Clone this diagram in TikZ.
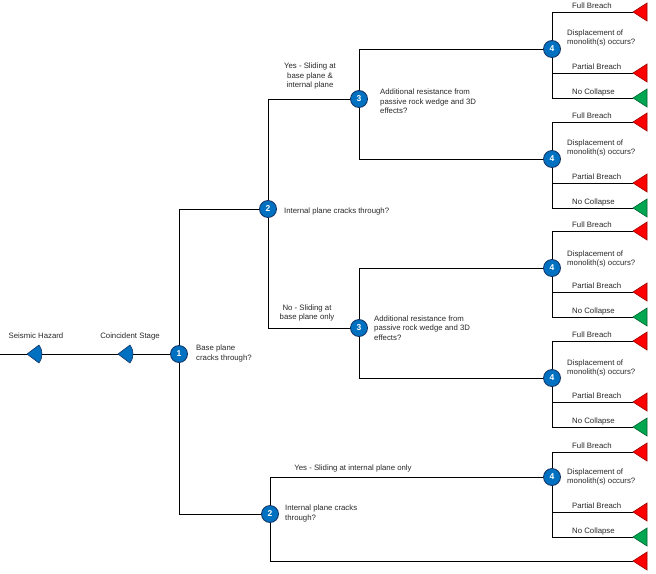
\documentclass[tikz,border=0pt]{standalone}
\usepackage{fontspec}
\setmainfont{Liberation Sans}
\definecolor{nodeblue}{RGB}{0,112,192}
\definecolor{nodeedge}{RGB}{20,50,100}
\definecolor{tred}{RGB}{255,0,0}
\definecolor{tgreen}{RGB}{0,166,80}
\definecolor{txt}{RGB}{40,40,40}
\tikzset{
  pics/endtri/.style={code={\path[fill=#1, draw=#1!60!black, line width=0.6pt] (0,0) -- (14,-9) -- (14,9) -- cycle;}},
  pics/hazard/.style={code={\path[fill=nodeblue, draw=nodeedge, line width=0.6pt] (0,0) -- (12,-9) .. controls (16,-4) and (16,4) .. (12,9) -- cycle;}}
}
\begin{document}
\begin{tikzpicture}[x=1pt,y=-1pt,
  conn/.style={draw=black, line width=0.9pt},
  dec/.style={circle, fill=nodeblue, draw=nodeedge, line width=0.8pt, minimum size=17pt, inner sep=0pt, text=white, font=\fontsize{8.5}{8.5}\selectfont\bfseries},
  lbl/.style={inner sep=0pt, text=txt, font=\fontsize{7.8}{9.4}\selectfont}]
\useasboundingbox (0,0) rectangle (656,573);

% decision nodes
\node[dec] (n1) at (179,354) {1};
\node[dec] (n2a) at (268,209) {2};
\node[dec] (n2b) at (270,514) {2};
\node[dec] (n3a) at (359,99) {3};
\node[dec] (n3b) at (359,328) {3};

% left input line
\coordinate (start) at (0,354);
\draw[conn] (start) -- (n1);
\coordinate (sh) at (27,354);
\coordinate (cs) at (118,354);
\pic at (sh) {hazard};
\pic at (cs) {hazard};
\node[lbl] at (36,336) {Seismic Hazard};
\node[lbl] at (130,336) {Coincident Stage};

% groups of node 4
\foreach \i/\N/\f/\p/\c/\t in {1/49/12/73/98/38, 2/159/122/183/208/148, 3/268/231/292/317/259, 4/378/341/402/427/368, 5/477/452/512/537/477} {
  \node[dec] (d\i) at (552,\N) {4};
  \coordinate (fb\i) at (633,\f);
  \coordinate (pb\i) at (633,\p);
  \coordinate (nc\i) at (633,\c);
  \draw[conn] (d\i) |- (fb\i);
  \draw[conn] (d\i) |- (pb\i);
  \draw[conn] (d\i) |- (nc\i);
  \pic at (fb\i) {endtri=tred};
  \pic at (pb\i) {endtri=tred};
  \pic at (nc\i) {endtri=tgreen};
  \node[lbl, anchor=base west] at (572,\f-3.5) {Full Breach};
  \node[lbl, anchor=base west] at (572,\p-3.5) {Partial Breach};
  \node[lbl, anchor=base west] at (572,\c-3.5) {No Collapse};
  \node[lbl, anchor=west, align=left] at (567,\t) {Displacement of\\monolith(s) occurs?};
}

% tree connectors
\draw[conn] (n1) |- (n2a);
\draw[conn] (n1) |- (n2b);
\draw[conn] (n2a) |- (n3a);
\draw[conn] (n2a) |- (n3b);
\draw[conn] (n3a) |- (d1);
\draw[conn] (n3a) |- (d2);
\draw[conn] (n3b) |- (d3);
\draw[conn] (n3b) |- (d4);
\draw[conn] (n2b) |- (d5);
\coordinate (fin) at (633,561);
\draw[conn] (n2b) |- (fin);
\pic at (fin) {endtri=tred};

% labels
\node[lbl, anchor=west, align=left] at (196,353.5) {Base plane\\cracks through?};
\node[lbl, anchor=west] at (284,211) {Internal plane cracks through?};
\node[lbl, anchor=west, align=left] at (285,513.5) {Internal plane cracks\\through?};
\node[lbl, align=center] at (310,76) {Yes - Sliding at\\base plane \&\\internal plane};
\node[lbl, align=center] at (307,313) {No - Sliding at\\base plane only};
\node[lbl] at (353,468) {Yes - Sliding at internal plane only};
\node[lbl, anchor=west, align=left] at (380,101.5) {Additional resistance from\\passive rock wedge and 3D\\effects?};
\node[lbl, anchor=west, align=left] at (374,328) {Additional resistance from\\passive rock wedge and 3D\\effects?};
\end{tikzpicture}
\end{document}
